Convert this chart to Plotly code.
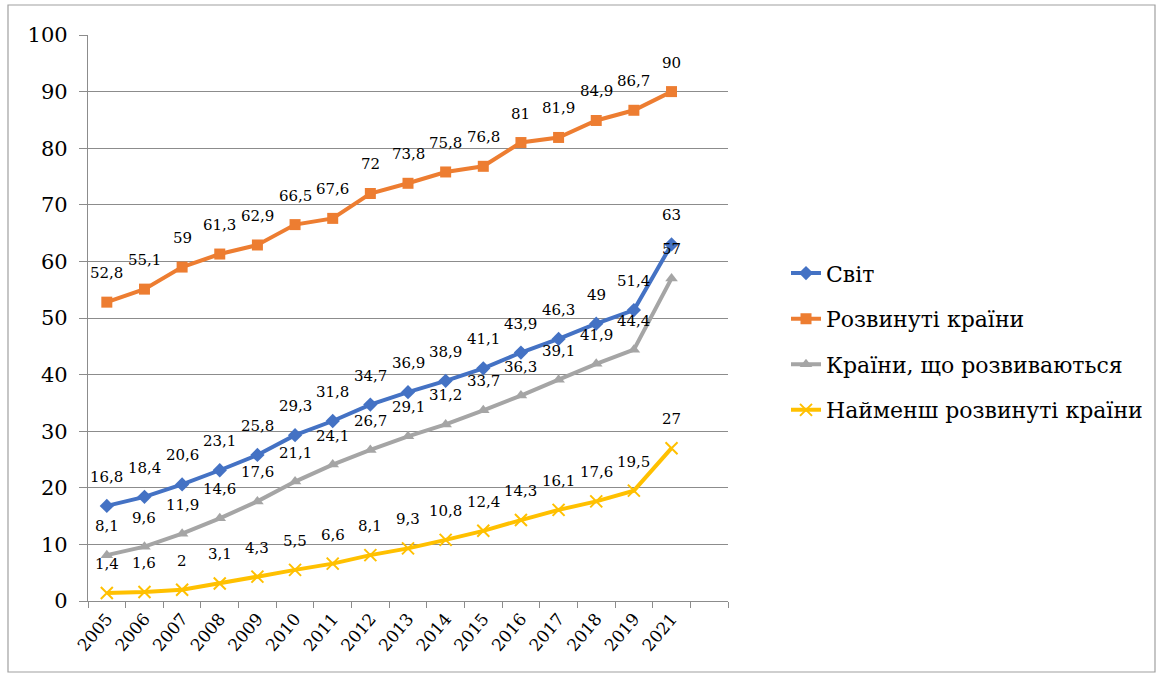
import plotly.graph_objects as go

years = ["2005", "2006", "2007", "2008", "2009", "2010", "2011", "2012",
         "2013", "2014", "2015", "2016", "2017", "2018", "2019", "2021"]
world = [16.8, 18.4, 20.6, 23.1, 25.8, 29.3, 31.8, 34.7, 36.9, 38.9, 41.1, 43.9, 46.3, 49, 51.4, 63]
developed = [52.8, 55.1, 59, 61.3, 62.9, 66.5, 67.6, 72, 73.8, 75.8, 76.8, 81, 81.9, 84.9, 86.7, 90]
developing = [8.1, 9.6, 11.9, 14.6, 17.6, 21.1, 24.1, 26.7, 29.1, 31.2, 33.7, 36.3, 39.1, 41.9, 44.4, 57]
least = [1.4, 1.6, 2, 3.1, 4.3, 5.5, 6.6, 8.1, 9.3, 10.8, 12.4, 14.3, 16.1, 17.6, 19.5, 27]

names = ["Світ", "Розвинуті країни", "Країни, що розвиваються", "Найменш розвинуті країни"]
colors = ["#4472C4", "#ED7D31", "#A5A5A5", "#FFC000"]
symbols = ["diamond", "square", "triangle-up", "x-thin"]
series = [world, developed, developing, least]

FONT = "DejaVu Serif"

fig = go.Figure()
for name, col, sym, vals in zip(names, colors, symbols, series):
    marker = dict(symbol=sym, size=11, color=col)
    if sym == "x-thin":
        marker = dict(symbol=sym, size=12, color=col, line=dict(color=col, width=2))
    fig.add_trace(go.Scatter(
        x=years, y=vals, name=name, legendgroup=name, mode="lines+markers",
        line=dict(color=col, width=4),
        marker=marker,
    ))

annotations = []
for vals in series:
    for i, v in enumerate(vals):
        annotations.append(dict(
            x=i, y=v, xref="x", yref="y",
            text=(f"{v:g}").replace(".", ","),
            showarrow=False, yshift=29,
            font=dict(family=FONT, size=15, color="#000000"),
        ))

fig.update_layout(
    width=1163, height=674,
    margin=dict(l=88, r=435, t=35, b=73),
    paper_bgcolor="white", plot_bgcolor="white",
    font=dict(family=FONT),
    showlegend=True,
    legend=dict(
        x=(786 - 88) / 640, xanchor="left", y=0.458, yanchor="middle",
        font=dict(family=FONT, size=22, color="#000000"),
        tracegroupgap=14, itemwidth=30,
        bgcolor="rgba(0,0,0,0)",
    ),
    annotations=annotations,
    shapes=[dict(type="rect", xref="paper", yref="paper",
                 x0=-80/640, x1=(1155-88)/640, y0=-(672-601)/566, y1=1+30/566,
                 line=dict(color="#A0A0A0", width=1.2), fillcolor="rgba(0,0,0,0)")],
)

fig.update_xaxes(
    type="category", categoryorder="array", categoryarray=years + [" "],
    range=[-0.5, 16.5], tickson="boundaries", ticks="outside", ticklen=6,
    tickcolor="#8C8C8C", showline=True, linecolor="#8C8C8C", linewidth=1.2,
    showgrid=False, tickangle=-50,
    tickfont=dict(family=FONT, size=17, color="#000000"),
)
fig.update_yaxes(
    range=[0, 100], dtick=10, showgrid=True, gridcolor="#8C8C8C", gridwidth=1.2,
    showline=True, linecolor="#8C8C8C", linewidth=1.2, zeroline=False,
    ticks="outside", ticklen=8, tickcolor="#8C8C8C", ticklabelstandoff=7,
    tickfont=dict(family=FONT, size=21, color="#000000"),
)

fig.write_html("out.html", config={"displayModeBar": False},
               post_script="document.body.style.margin='0';")
